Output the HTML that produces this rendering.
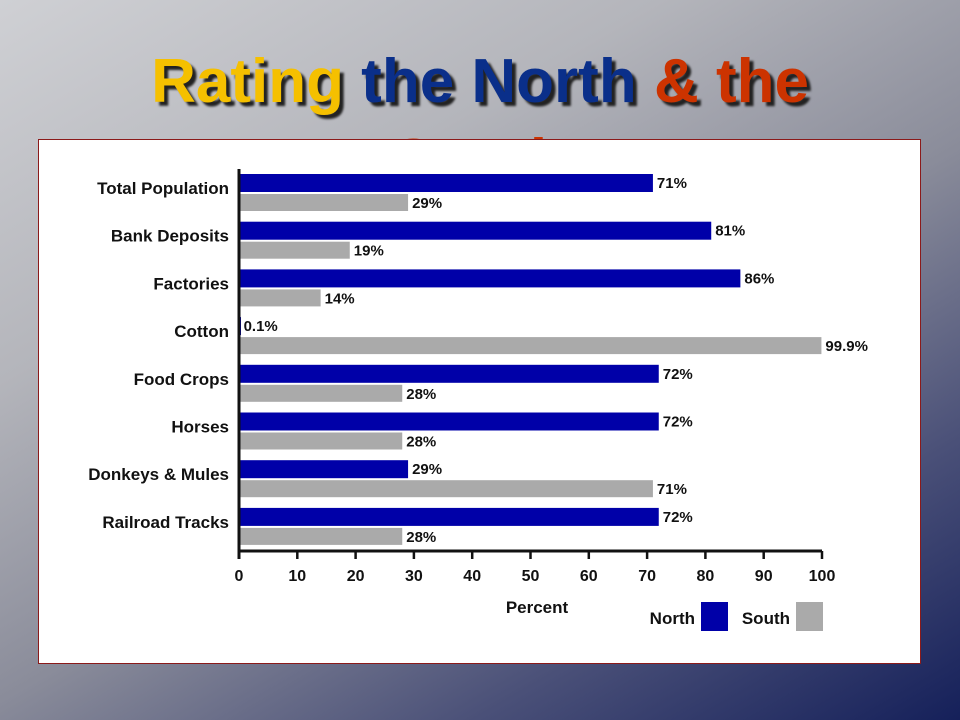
<!DOCTYPE html>
<html><head><meta charset="utf-8"><style>
body{margin:0;width:960px;height:720px;overflow:hidden;}
#bg{position:absolute;left:0;top:0;width:960px;height:720px;background:linear-gradient(150deg,#cfd0d4 0%,#b4b5bb 30%,#8a8c9a 55%,#4a5078 78%,#15205a 100%);}
#title{position:absolute;left:0;top:42px;width:960px;text-align:center;font:bold 62px "Liberation Sans",sans-serif;text-shadow:4px 4px 2px #222;line-height:80px;}
#box{position:absolute;left:38px;top:139px;width:881px;height:523px;background:#fff;border:1px solid #8b1a1a;}
</style></head><body>
<div id="bg"></div>
<div id="title"><span style="color:#f5c000">Rating</span> <span style="color:#0a2f8a">the North</span> <span style="color:#cc3300">&amp; the</span><br><span style="color:#cc3300">South</span></div>
<div id="box">
<svg id="chart" width="881" height="523" viewBox="38 139 881 523" style="font-family:'Liberation Sans',sans-serif;font-weight:bold"></svg>
</div>
<script>
const categories=["Total Population","Bank Deposits","Factories","Cotton","Food Crops","Horses","Donkeys & Mules","Railroad Tracks"];
const north=[71,81,86,0.1,72,72,29,72];
const south=[29,19,14,99.9,28,28,71,28];
const northLabels=["71%","81%","86%","0.1%","72%","72%","29%","72%"];
const southLabels=["29%","19%","14%","99.9%","28%","28%","71%","28%"];
const ticks=[0,10,20,30,40,50,60,70,80,90,100];
const NS="http://www.w3.org/2000/svg";
const svg=document.getElementById('chart');
const x0=238,x1=821,yTop=164,step=47.7,axisY=550;
const xs=v=>x0+(x1-x0)*v/100;
const yc=i=>yTop+step*i;
function mk(t,a,txt){const e=document.createElementNS(NS,t);for(const k in a)e.setAttribute(k,a[k]);if(txt!=null)e.textContent=txt;svg.appendChild(e);return e;}
categories.forEach((c,i)=>{
 const y=yc(i);
 let t=mk('text',{x:228,y:y+29,'text-anchor':'end','font-size':17,fill:'#111'},c);
 
 
 let b=mk('rect',{x:x0,y:y+9,width:Math.max(2,xs(north[i])-x0),height:18,fill:'#0000a8'});
 
 
 let l=mk('text',{x:xs(north[i])+4,y:y+23,'font-size':15,fill:'#111'},northLabels[i]);
 
 
 let s=mk('rect',{x:x0,y:y+29,width:xs(south[i])-x0,height:17,fill:'#aaaaaa'});
 
 
 let sl=mk('text',{x:xs(south[i])+4,y:y+43,'font-size':15,fill:'#111'},southLabels[i]);
 
 
});
let ya=mk('line',{x1:x0,y1:168,x2:x0,y2:axisY+8,stroke:'#111','stroke-width':3});


let xa=mk('line',{x1:x0,y1:axisY,x2:x1,y2:axisY,stroke:'#111','stroke-width':3});


ticks.forEach(v=>{
 let tk=mk('line',{x1:xs(v),y1:axisY,x2:xs(v),y2:axisY+8,stroke:'#111','stroke-width':2.5});
 
 
 let tl=mk('text',{x:xs(v),y:axisY+30,'text-anchor':'middle','font-size':16,fill:'#111'},String(v));
 
 
});
let xt=mk('text',{x:536,y:612,'text-anchor':'middle','font-size':17,fill:'#111'},'Percent');


let ln=mk('text',{x:694,y:623,'text-anchor':'end','font-size':17,fill:'#111'},'North');


let lb=mk('rect',{x:700,y:601,width:27,height:29,fill:'#0000a8'});


let ls=mk('text',{x:789,y:623,'text-anchor':'end','font-size':17,fill:'#111'},'South');


let lsb=mk('rect',{x:795,y:601,width:27,height:29,fill:'#aaaaaa'});


</script>
</body></html>
